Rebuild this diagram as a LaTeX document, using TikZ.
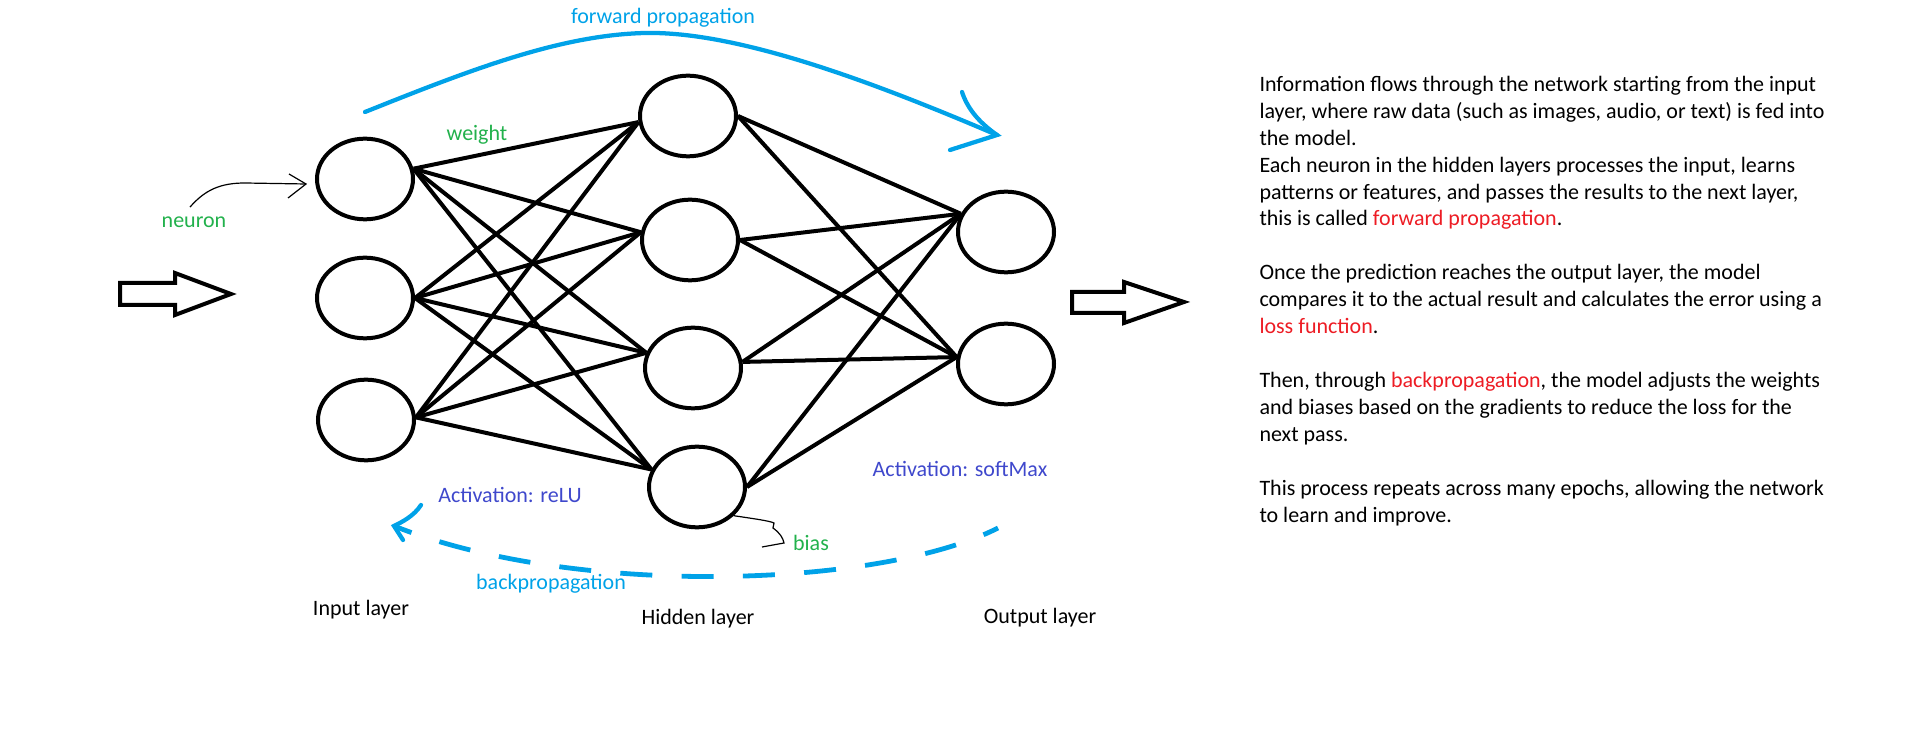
\documentclass[tikz,border=0pt]{standalone}
\usepackage{fontspec}
\setmainfont{Carlito}
\usepackage{tikz}
\usetikzlibrary{shapes.geometric}
\tikzset{every picture/.style={line width=0.75pt}}

\definecolor{fwdblue}{RGB}{0,162,232}
\definecolor{lblgreen}{RGB}{34,177,76}
\definecolor{actblue}{RGB}{63,72,204}
\definecolor{keyred}{RGB}{237,28,36}

\tikzset{
  neuron/.style={draw, ellipse, line width=3pt, minimum width=72pt, minimum height=60.5pt, inner sep=0pt},
  wire/.style={line width=3pt},
  fwdarc/.style={color=fwdblue, line width=3.2pt, line cap=round},
  backarc/.style={color=fwdblue, line width=3.6pt, dash pattern=on 24pt off 22pt, dash phase=12pt},
  pointer/.style={line width=0.9pt},
  blockarrow/.style={line width=3pt, line join=miter},
  txt/.style={font=\fontsize{16.5pt}{20.2pt}\selectfont, inner sep=0pt}
}

\begin{document}
\begin{tikzpicture}[x=0.75pt,y=0.75pt,yscale=-1,xscale=1]
\useasboundingbox (0,0) rectangle (1914,741);

%Shape: Ellipse [input layer]
\node [neuron] (i1) at (365,179) {};
\node [neuron] (i2) at (365,298) {};
\node [neuron] (i3) at (366,420) {};
%Shape: Ellipse [hidden layer]
\node [neuron] (h1) at (688,116) {};
\node [neuron] (h2) at (690,240) {};
\node [neuron] (h3) at (693,368) {};
\node [neuron] (h4) at (697,487) {};
%Shape: Ellipse [output layer]
\node [neuron] (o1) at (1006,232) {};
\node [neuron] (o2) at (1006,364) {};

%Straight Lines [input -> hidden]
\draw [wire] (i1.12) -- (h1.187);
\draw [wire] (i1.12) -- (h2.171);
\draw [wire] (i1.12) -- (h3.162);
\draw [wire] (i1.12) -- (h4.159);
\draw [wire] (i2.east) -- (h1.187);
\draw [wire] (i2.east) -- (h2.171);
\draw [wire] (i2.east) -- (h3.162);
\draw [wire] (i2.east) -- (h4.159);
\draw [wire] (i3.3) -- (h1.187);
\draw [wire] (i3.3) -- (h2.171);
\draw [wire] (i3.3) -- (h3.162);
\draw [wire] (i3.3) -- (h4.159);

%Straight Lines [hidden -> output]
\draw [wire] (h1.east) -- (o1.158);
\draw [wire] (h1.east) -- (o2.172);
\draw [wire] (h2.east) -- (o1.158);
\draw [wire] (h2.east) -- (o2.172);
\draw [wire] (h3.7) -- (o1.158);
\draw [wire] (h3.7) -- (o2.172);
\draw [wire] (h4.east) -- (o1.158);
\draw [wire] (h4.east) -- (o2.172);

%Shape: Right Arrow [in]
\draw [blockarrow] (120,283) -- (175,283) -- (175,273) -- (231,294) -- (175,315) -- (175,305) -- (120,305) -- cycle ;
%Shape: Right Arrow [out]
\draw [blockarrow] (1072,292) -- (1124,292) -- (1124,282) -- (1184,302) -- (1124,323) -- (1124,313) -- (1072,313) -- cycle ;

%Curve Lines [forward propagation]
\coordinate (fwdtip) at (997,135);
\draw [fwdarc] (365,112) .. controls (470,70) and (560,35) .. (645,33) .. controls (740,31) and (880,85) .. (fwdtip);
\draw [fwdarc, shift={(fwdtip)}] (-35,-43) .. controls (-30,-28) and (-20,-14) .. (0,0) -- (-47,15) ;

%Curve Lines [backpropagation]
\coordinate (backtail) at (998,528);
\coordinate (backtip) at (394,526);
\draw [backarc] (backtail) .. controls (880,588) and (575,598) .. (backtip);
\draw [fwdarc, shift={(backtip)}] (27,-21) .. controls (20,-10) and (8,-4) .. (0,0) -- (9,14) ;

% Text Node
\node [txt, text=fwdblue] (fwdlbl) at (663,18) {forward propagation};
% Text Node
\node [txt, text=lblgreen] (weightlbl) at (477,135) {weight};
% Text Node
\node [txt, text=lblgreen] (neuronlbl) at (194,222) {neuron};
% Text Node
\node [txt, text=actblue] (relulbl) at (510,495) {Activation: reLU};
% Text Node
\node [txt, text=actblue] (softmaxlbl) at (960,469) {Activation: softMax};
% Text Node
\node [txt, text=lblgreen] (biaslbl) at (811,543) {bias};
% Text Node
\node [txt, text=fwdblue] (backlbl) at (551,584) {backpropagation};
% Text Node
\node [txt] (inlbl) at (361,610) {Input layer};
% Text Node
\node [txt] (hidlbl) at (698,619) {Hidden layer};
% Text Node
\node [txt] (outlbl) at (1040,618) {Output layer};

%Curve Lines [neuron pointer]
\coordinate (neurontip) at (306,184);
\draw [pointer] ([shift={(-4,-9)}]neuronlbl.north) .. controls (205,190) and (220,183) .. (245,183) -- (neurontip);
\draw [pointer, shift={(neurontip)}] (-17,-10) -- (0,0) -- (-18,14) ;

%Curve Lines [bias pointer]
\draw [pointer] (h4.-38) .. controls (756,519) and (770,521) .. (774,523) -- (773,528) .. controls (780,533) and (783,538) .. (784,543) -- (762,547) ;

% Text Node
\node [txt, anchor=north west, align=left] (explain) at (1259,75.5) {Information flows through the network starting from the input\\
layer, where raw data (such as images, audio, or text) is fed into\\
the model.\\
Each neuron in the hidden layers processes the input, learns\\
patterns or features, and passes the results to the next layer,\\
this is called \textcolor{keyred}{forward propagation}.\\[20.2pt]
Once the prediction reaches the output layer, the model\\
compares it to the actual result and calculates the error using a\\
\textcolor{keyred}{loss function}.\\[20.2pt]
Then, through \textcolor{keyred}{backpropagation}, the model adjusts the weights\\
and biases based on the gradients to reduce the loss for the\\
next pass.\\[20.2pt]
This process repeats across many epochs, allowing the network\\
to learn and improve.};

\end{tikzpicture}
\end{document}
